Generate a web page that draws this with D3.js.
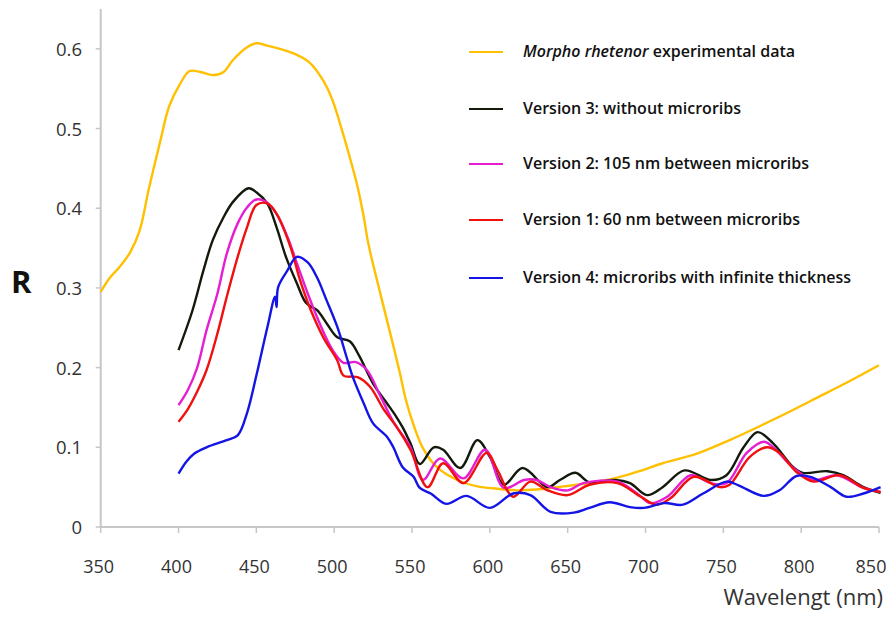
<!DOCTYPE html>
<html>
<head>
<meta charset="utf-8">
<script src="https://cdn.jsdelivr.net/npm/d3@7"></script>
<style>
  body { margin: 0; background: #fff; }
  svg { display: block; font-family: "Open Sans", sans-serif; }
</style>
</head>
<body>
<svg id="chart" width="891" height="618"></svg>
<script>
// wavelength (nm) / reflectance pairs
var morphoNm = [350,356,362,369,375,381,388,394,401,407,414,422,429,435,444,450,457,465,473,484,493,499,505,510,515,519,522,530,536,542,546,551,557,566,579,592,605,617,630,643,656,669,682,696,711,733,754,775,797,810,830,850];
var morphoR  = [0.295,0.313,0.326,0.345,0.372,0.425,0.482,0.528,0.556,0.572,0.571,0.567,0.571,0.586,0.602,0.607,0.604,0.600,0.595,0.583,0.560,0.535,0.498,0.464,0.427,0.389,0.355,0.290,0.243,0.195,0.160,0.128,0.099,0.075,0.059,0.051,0.048,0.046,0.047,0.050,0.053,0.057,0.062,0.070,0.080,0.092,0.109,0.128,0.149,0.162,0.182,0.203];

var v3Nm = [400,409,416,422,429,435,445,450,457,463,469,476,482,489,495,502,510,516,525,534,540,544,549,555,564,570,581,592,600,609,621,637,645,655,664,680,690,701,711,725,742,752,763,772,782,795,801,817,827,840,851];
var v3R  = [0.222,0.272,0.322,0.360,0.389,0.408,0.425,0.420,0.406,0.376,0.339,0.306,0.281,0.272,0.256,0.238,0.233,0.215,0.180,0.155,0.138,0.125,0.105,0.079,0.100,0.097,0.074,0.109,0.088,0.053,0.074,0.050,0.059,0.068,0.056,0.059,0.055,0.040,0.050,0.071,0.059,0.065,0.100,0.119,0.105,0.075,0.068,0.070,0.065,0.050,0.043];

var v2Nm = [400,406,412,418,425,431,438,444,450,457,463,470,476,483,491,499,506,514,521,530,538,549,557,568,583,597,609,622,630,639,650,660,682,696,703,714,729,742,752,765,776,782,795,808,823,840,851];
var v2R  = [0.153,0.172,0.200,0.247,0.293,0.343,0.381,0.401,0.411,0.407,0.393,0.364,0.331,0.293,0.254,0.222,0.206,0.207,0.197,0.163,0.132,0.100,0.059,0.086,0.061,0.097,0.049,0.059,0.059,0.050,0.046,0.055,0.057,0.040,0.030,0.038,0.065,0.055,0.055,0.093,0.107,0.100,0.074,0.059,0.065,0.049,0.044];

var v1Nm = [400,406,412,418,425,431,438,444,450,457,463,472,478,485,493,502,506,515,523,532,540,549,560,570,583,598,605,615,626,637,650,664,682,697,707,716,731,748,754,767,778,786,797,808,825,840,851];
var v1R  = [0.132,0.148,0.170,0.197,0.243,0.289,0.339,0.376,0.404,0.406,0.393,0.351,0.310,0.272,0.238,0.209,0.190,0.188,0.176,0.147,0.126,0.097,0.050,0.080,0.055,0.093,0.071,0.038,0.057,0.046,0.040,0.053,0.055,0.038,0.028,0.036,0.063,0.050,0.053,0.088,0.100,0.093,0.069,0.057,0.065,0.049,0.044];

var v4Nm = [400,405,410,418,431,438,444,450,457,462,463,464,470,476,483,489,495,502,508,512,519,525,534,538,544,551,555,562,572,585,600,615,626,639,654,664,677,690,699,712,724,737,752,760,776,786,797,806,819,829,840,851];
var v4R  = [0.067,0.082,0.092,0.100,0.109,0.115,0.143,0.190,0.250,0.289,0.276,0.301,0.322,0.339,0.332,0.313,0.285,0.251,0.213,0.188,0.155,0.130,0.113,0.100,0.075,0.063,0.049,0.042,0.029,0.039,0.024,0.042,0.040,0.019,0.018,0.024,0.031,0.025,0.024,0.030,0.028,0.042,0.057,0.052,0.039,0.046,0.064,0.063,0.050,0.038,0.042,0.050];

var xTicks = [350,400,450,500,550,600,650,700,750,800,850];
var yTicks = [0,0.1,0.2,0.3,0.4,0.5,0.6];

var series = [
    {name: 'morpho', nm: morphoNm, r: morphoR, color: '#ffc000', label: ['Morpho rhetenor', ' experimental data'], ly: 52},
    {name: 'v3', nm: v3Nm, r: v3R, color: '#121a0c', label: ['', 'Version 3: without microribs'], ly: 109},
    {name: 'v2', nm: v2Nm, r: v2R, color: '#e61ed2', label: ['', 'Version 2: 105 nm between microribs'], ly: 164},
    {name: 'v1', nm: v1Nm, r: v1R, color: '#f01010', label: ['', 'Version 1: 60 nm between microribs'], ly: 220},
    {name: 'v4', nm: v4Nm, r: v4R, color: '#1414e6', label: ['', 'Version 4: microribs with infinite thickness'], ly: 278}
];

var svg = d3.select('#chart');

var x = d3.scaleLinear().domain([350, 850]).range([100.7, 879]);
var y = d3.scaleLinear().domain([0, 0.65]).range([527, 9]);

var axisColor = '#c6c6c6';
var textColor = '#333';

// axes lines
svg.append('line')
    .attr('x1', x(350)).attr('x2', x(350))
    .attr('y1', y(0.65)).attr('y2', y(0))
    .attr('stroke', axisColor).attr('stroke-width', 2);
svg.append('line')
    .attr('x1', x(350)).attr('x2', x(850))
    .attr('y1', y(0)).attr('y2', y(0))
    .attr('stroke', axisColor).attr('stroke-width', 2);

// x ticks + labels
var xg = svg.append('g');
xg.selectAll('line').data(xTicks).enter().append('line')
    .attr('x1', function (d) { return x(d); })
    .attr('x2', function (d) { return x(d); })
    .attr('y1', y(0)).attr('y2', y(0) + 6)
    .attr('stroke', axisColor).attr('stroke-width', 1.5);
xg.selectAll('text').data(xTicks).enter().append('text')
    .attr('x', function (d) { return Math.min(x(d) - 2, 871); })
    .attr('y', 573)
    .attr('text-anchor', 'middle')
    .attr('fill', textColor)
    .style('font-size', '18px')
    .text(function (d) { return d; });

// y ticks + labels
var yg = svg.append('g');
yg.selectAll('line').data(yTicks).enter().append('line')
    .attr('x1', x(350) - 5).attr('x2', x(350))
    .attr('y1', function (d) { return y(d); })
    .attr('y2', function (d) { return y(d); })
    .attr('stroke', axisColor).attr('stroke-width', 1.5);
yg.selectAll('text').data(yTicks).enter().append('text')
    .attr('x', 82)
    .attr('y', function (d) { return y(d) + 7; })
    .attr('text-anchor', 'end')
    .attr('fill', textColor)
    .style('font-size', '18.5px')
    .text(function (d) { return d === 0 ? '0' : d3.format('.1f')(d); });

svg.append('text')
    .attr('x', 11).attr('y', 293)
    .attr('fill', '#111')
    .style('font-size', '31px')
    .style('font-weight', 700)
    .text('R');

svg.append('text')
    .attr('x', 883).attr('y', 605)
    .attr('text-anchor', 'end')
    .attr('fill', textColor)
    .style('font-size', '22px')
    .text('Wavelengt (nm)');

// curves
var line = d3.line()
    .x(function (d) { return x(d[0]); })
    .y(function (d) { return y(d[1]); })
    .curve(d3.curveCatmullRom.alpha(0.5));

series.forEach(function (s) {
    var pts = s.nm.map(function (n, i) { return [n, s.r[i]]; });
    svg.append('path')
        .attr('d', line(pts))
        .attr('fill', 'none')
        .attr('stroke', s.color)
        .attr('stroke-width', 2.4)
        .attr('stroke-linejoin', 'round');
});

// legend
var leg = svg.append('g');
series.forEach(function (s) {
    leg.append('line')
        .attr('x1', 469).attr('x2', 503)
        .attr('y1', s.ly).attr('y2', s.ly)
        .attr('stroke', s.color).attr('stroke-width', 2.2);
    var t = leg.append('text')
        .attr('x', 523).attr('y', s.ly + 5)
        .attr('fill', '#111')
        .style('font-size', '16px')
        .style('font-weight', 600);
    if (s.label[0]) t.append('tspan').style('font-style', 'italic').text(s.label[0]);
    t.append('tspan').text(s.label[1]);
});
</script>
</body>
</html>
